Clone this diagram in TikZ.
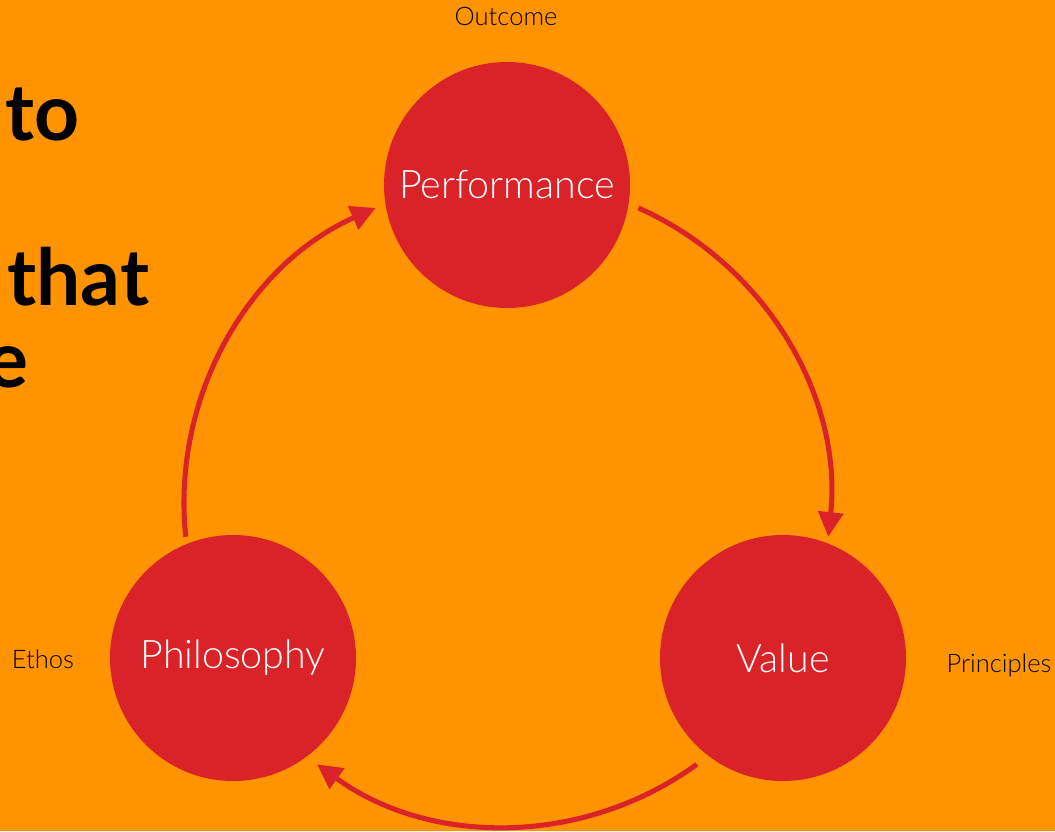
\documentclass[tikz,border=0pt]{standalone}
\usepackage{fontspec}
\setmainfont{Lato}
\newfontfamily\lightfont{Lato Light}
\usetikzlibrary{arrows.meta,calc}
\definecolor{bgorange}{HTML}{FF9300}
\definecolor{circred}{HTML}{DA2229}
\tikzset{
  bubble/.style={circle, fill=circred, minimum size=246*0.03cm, inner sep=0pt,
    text=white, font=\lightfont\fontsize{33.6}{38}\selectfont},
  side/.style={text=black, font=\lightfont\fontsize{21.8}{25}\selectfont, inner sep=0pt},
  title/.style={text=black, font=\bfseries\fontsize{67}{71}\selectfont, inner sep=0pt},
  flow/.style={draw=circred, line width=4.3pt, -{Triangle[length=21pt,width=21pt]}}
}
\begin{document}
\begin{tikzpicture}[x=0.03cm,y=-0.03cm]
\fill[bgorange] (0,0) rectangle (1055,831);
\useasboundingbox (0,0) rectangle (1055,831);
\begin{scope}
\clip (0,0) rectangle (1055,831);
\node[title, anchor=base west] (t1) at (5,140) {to};
\node[title, anchor=base west] (t2) at (7,305) {that};
\node[title, anchor=base east] (t3) at (29,387) {e};
\end{scope}
\node[bubble] (perf) at (507,185) {Performance};
\node[bubble] (phil) at (233,658) {Philosophy};
\node[bubble] (val) at (783,658) {Value};
\node[side] (out) at (506,16) {Outcome};
\node[side] (eth) at (43,659) {Ethos};
\node[side] (pri) at (999,665) {Principles};
\coordinate (c) at (507,503);
\coordinate (s1) at ($(c)+(-66:323)$);
\coordinate (s2) at ($(c)+(54:323)$);
\coordinate (s3) at ($(c)+(174:323)$);
\draw[flow] (s1) arc[start angle=-66, end angle=6, radius=323];
\draw[flow] (s2) arc[start angle=54, end angle=126, radius=323];
\draw[flow] (s3) arc[start angle=174, end angle=246, radius=323];
\end{tikzpicture}
\end{document}
